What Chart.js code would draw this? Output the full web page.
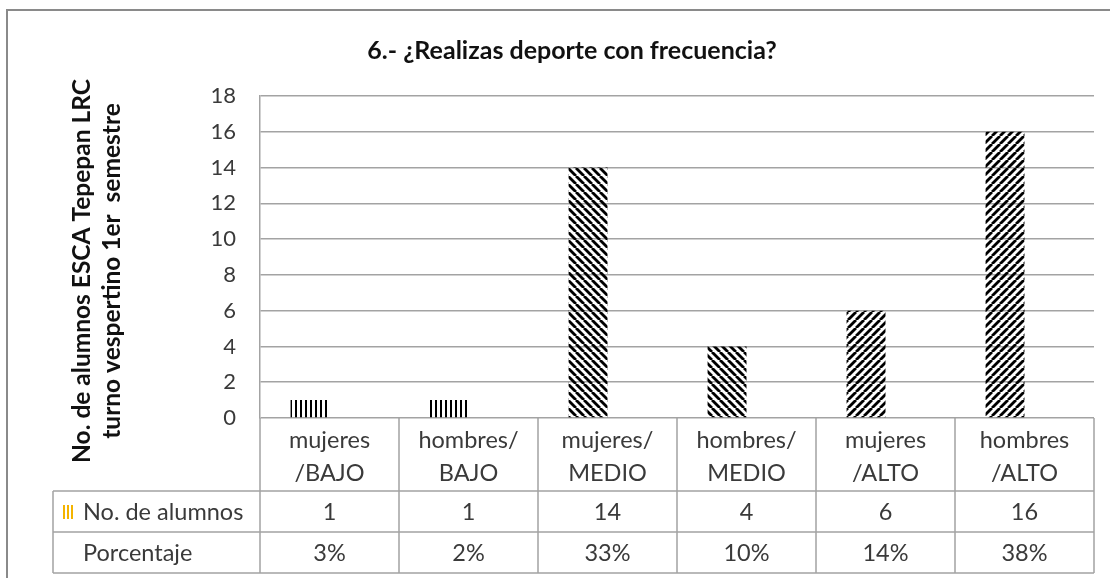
<!DOCTYPE html>
<html>
<head>
<meta charset="utf-8">
<script src="https://cdn.jsdelivr.net/npm/chart.js@4/dist/chart.umd.min.js"></script>
<style>
  body { margin: 0; background: #fff; }
</style>
</head>
<body>
<canvas id="deporteChart" width="1110" height="578"></canvas>
<script>
// data
const categories = [
  ["mujeres", "/BAJO"],
  ["hombres/", "BAJO"],
  ["mujeres/", "MEDIO"],
  ["hombres/", "MEDIO"],
  ["mujeres", "/ALTO"],
  ["hombres", "/ALTO"],
];
const alumnos = [1, 1, 14, 4, 6, 16];
const porcentaje = [3, 2, 33, 10, 14, 38];
const patternKinds = ["v", "v", "back", "back", "fwd", "fwd"];
const yMax = 18;
const yStep = 2;

const FONT = "Lato, 'Noto Sans', sans-serif";
const TEXT = "#3a3a3a";
const LINE = "#a3a3a3";

const canvas = document.getElementById("deporteChart");
const ctx = canvas.getContext("2d");

// hatch fills like the excel ones
function makePattern(kind) {
  const s = kind === "v" ? 5 : 8;
  const c = document.createElement("canvas");
  c.width = s;
  c.height = s;
  const g = c.getContext("2d");
  g.fillStyle = "#000";
  g.strokeStyle = "#000";
  if (kind === "v") {
    g.fillRect(0, 0, 2, s);
  } else {
    g.lineWidth = 2.8;
    for (const o of [-s, 0, s]) {
      g.beginPath();
      if (kind === "back") {
        g.moveTo(o, 0);
        g.lineTo(o + s, s);
      } else {
        g.moveTo(o, s);
        g.lineTo(o + s, 0);
      }
      g.stroke();
    }
  }
  return ctx.createPattern(c, "repeat");
}

const tablePlugin = {
  id: "tablePlugin",
  afterDraw(chart) {
    const c = chart.ctx;
    const x = chart.scales.x;
    const area = chart.chartArea;
    const colW = (area.right - area.left) / categories.length;
    const tableLeft = 53;
    const rowTop = [area.bottom, 491, 532, 573];

    c.save();
    // outer frame
    c.strokeStyle = "#8a8a8a";
    c.lineWidth = 2;
    c.strokeRect(7, 10, 1200, 700);

    // title
    c.fillStyle = "#111";
    c.font = "bold 25px " + FONT;
    c.textAlign = "center";
    c.textBaseline = "middle";
    c.fillText("6.- ¿Realizas deporte con frecuencia?", 572, 51);

    // y axis title
    c.save();
    c.translate(82, 271);
    c.rotate(-Math.PI / 2);
    c.font = "bold 24.5px " + FONT;
    c.fillText("No. de alumnos ESCA Tepepan LRC", 0, 0);
    c.fillText("turno vespertino 1er  semestre", 0, 30);
    c.restore();

    // table lines
    c.strokeStyle = LINE;
    c.lineWidth = 1.5;
    c.beginPath();
    for (let i = 0; i <= categories.length; i++) {
      const px = Math.round(area.left + i * colW);
      c.moveTo(px, area.bottom);
      c.lineTo(px, rowTop[3]);
    }
    for (let r = 1; r < 4; r++) {
      c.moveTo(tableLeft, rowTop[r]);
      c.lineTo(area.right, rowTop[r]);
    }
    c.moveTo(tableLeft, rowTop[1]);
    c.lineTo(tableLeft, rowTop[3]);
    c.stroke();

    // table texts
    c.fillStyle = TEXT;
    c.font = "23.5px " + FONT;
    c.textAlign = "center";
    categories.forEach((lab, i) => {
      const cx = x.getPixelForValue(i);
      c.fillText(lab[0], cx, 440);
      c.fillText(lab[1], cx, 473);
      c.fillText(String(alumnos[i]), cx, 512);
      c.fillText(porcentaje[i] + "%", cx, 553);
    });

    c.textAlign = "left";
    c.fillText("No. de alumnos", 83, 512);
    c.fillText("Porcentaje", 83, 553);

    // legend key
    c.fillStyle = "#f4b400";
    for (let k = 0; k < 3; k++) {
      c.fillRect(63 + k * 4, 505, 2, 14);
    }
    c.restore();
  },
};

new Chart(ctx, {
  type: "bar",
  data: {
    labels: categories,
    datasets: [
      {
        label: "No. de alumnos",
        data: alumnos,
        backgroundColor: patternKinds.map(makePattern),
        borderWidth: 0,
      },
      {
        label: "Porcentaje",
        data: porcentaje.map((p) => p / 100),
        backgroundColor: "rgba(0,0,0,0)",
        borderWidth: 0,
      },
    ],
  },
  options: {
    responsive: false,
    animation: false,
    categoryPercentage: 0.56,
    barPercentage: 1.0,
    layout: {
      padding: { top: 96, right: 16, bottom: 160, left: 0 },
    },
    scales: {
      x: {
        ticks: { display: false },
        grid: { display: false },
        border: { display: false },
        afterFit(scale) {
          scale.height = 0;
        },
      },
      y: {
        min: 0,
        max: yMax,
        ticks: {
          stepSize: yStep,
          padding: 24,
          color: TEXT,
          font: { family: FONT, size: 22 },
        },
        grid: { color: LINE, lineWidth: 1.5, drawTicks: false },
        border: { display: true, color: LINE, width: 1.5 },
        afterFit(scale) {
          scale.width = 260;
        },
      },
    },
    plugins: {
      legend: { display: false },
      tooltip: { enabled: false },
    },
  },
  plugins: [tablePlugin],
});
</script>
</body>
</html>
